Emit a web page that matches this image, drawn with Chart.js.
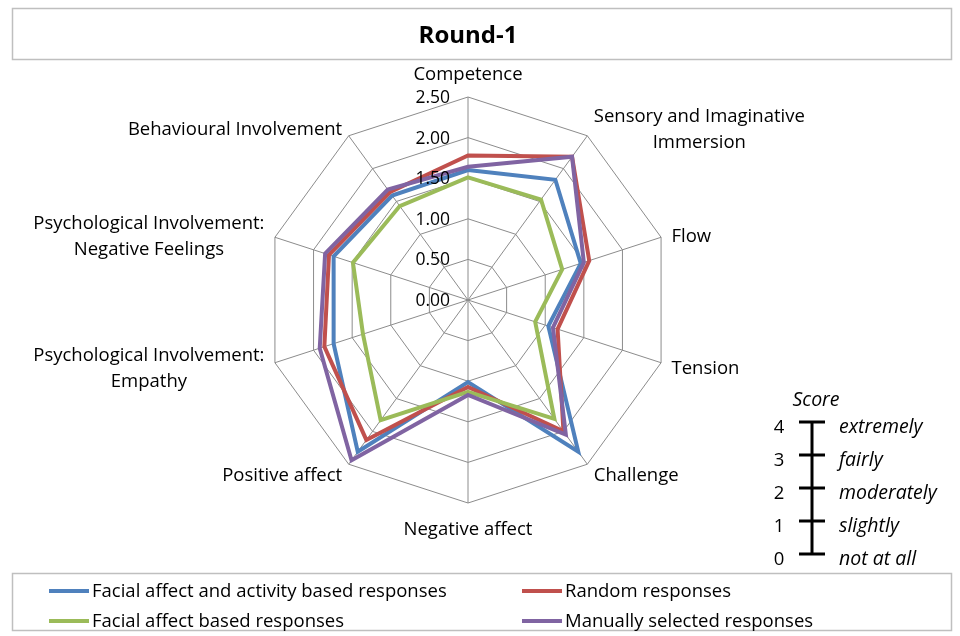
<!DOCTYPE html>
<html>
<head>
<meta charset="utf-8">
<title>Round-1</title>
<script src="https://cdn.jsdelivr.net/npm/chart.js"></script>
<style>
  html, body { margin: 0; padding: 0; background: #fff; }
  .container { width: 960px; height: 636px; position: relative; }
</style>
</head>
<body>
<div class="container"><canvas id="chart"></canvas></div>
<script>
// categories, clockwise from the top
const categories = [
  'Competence',
  ['Sensory and Imaginative', 'Immersion'],
  'Flow',
  'Tension',
  'Challenge',
  'Negative affect',
  'Positive affect',
  ['Psychological Involvement:', 'Empathy'],
  ['Psychological Involvement:', 'Negative Feelings'],
  'Behavioural Involvement'
];
const seriesNames = [
  'Facial affect and activity based responses',
  'Random responses',
  'Facial affect based responses',
  'Manually selected responses'
];
const facialActivity = [1.60, 1.83, 1.46, 1.04, 2.31, 1.01, 2.31, 1.74, 1.74, 1.59];
const randomResp     = [1.78, 2.18, 1.57, 1.16, 2.00, 1.07, 2.13, 1.86, 1.80, 1.64];
const facialOnly     = [1.51, 1.53, 1.22, 0.87, 1.81, 1.13, 1.83, 1.36, 1.49, 1.43];
const manualResp     = [1.64, 2.18, 1.50, 1.10, 2.05, 1.17, 2.44, 1.92, 1.85, 1.68];
const seriesColors = ['#4F81BD', '#C0504D', '#9BBB59', '#8064A2'];
const tickMin = 0, tickMax = 2.5, tickStep = 0.5;
const scoreValues = [0, 1, 2, 3, 4];
const scoreWords = ['not at all', 'slightly', 'moderately', 'fairly', 'extremely'];

const FONT = "'Open Sans', sans-serif";
Chart.defaults.font.family = FONT;
Chart.defaults.color = '#000';

// boxes round title and legend, axis numbers, labels, score key and legend
const decor = {
  id: 'decor',
  beforeDraw(chart) {
    const ctx = chart.ctx;
    ctx.save();
    ctx.fillStyle = '#fff';
    ctx.fillRect(0, 0, chart.width, chart.height);
    ctx.strokeStyle = '#BFBFBF';
    ctx.lineWidth = 1.5;
    ctx.strokeRect(12.5, 8.5, 939, 51);
    ctx.strokeRect(12.5, 573.5, 939, 57);
    ctx.restore();
  },
  afterDatasetsDraw(chart) {
    const ctx = chart.ctx;
    const sc = chart.scales.r;
    ctx.save();

    // axis numbers
    ctx.font = '17.5px ' + FONT;
    ctx.fillStyle = '#000';
    ctx.textAlign = 'right';
    ctx.textBaseline = 'middle';
    sc.ticks.forEach(t => {
      const y = sc.yCenter - sc.getDistanceFromCenterForValue(t.value);
      ctx.fillText(t.value.toFixed(2), sc.xCenter - 18, y + 1);
    });

    // category labels
    ctx.font = '18.5px ' + FONT;
    const lh = 26;
    chart.data.labels.forEach((lab, i) => {
      const lines = Array.isArray(lab) ? lab : [lab];
      const p = sc.getPointPosition(i, sc.drawingArea + 11);
      const w = Math.max(...lines.map(s => ctx.measureText(s).width));
      const h = lines.length * lh;
      const onAxis = Math.abs(p.x - sc.xCenter) < 2;
      let cx;
      if (onAxis) cx = p.x;
      else if (p.x > sc.xCenter) cx = p.x + w / 2;
      else cx = p.x - w / 2;
      let top;
      if (onAxis) top = p.y < sc.yCenter ? p.y - h + 2 : p.y + 3;
      else top = p.y - h / 2 + 3;
      ctx.textAlign = 'center';
      lines.forEach((s, k) => ctx.fillText(s, cx, top + lh * k + lh / 2));
    });

    // score key
    const kx = 812, ky0 = 554, kstep = 33;
    ctx.strokeStyle = '#000';
    ctx.lineWidth = 3;
    ctx.beginPath();
    ctx.moveTo(kx, ky0);
    ctx.lineTo(kx, ky0 - kstep * (scoreValues.length - 1));
    ctx.stroke();
    ctx.font = 'italic 19.5px ' + FONT;
    ctx.textAlign = 'center';
    ctx.fillText('Score', 816, 400);
    scoreValues.forEach((v, k) => {
      const y = ky0 - kstep * k;
      ctx.beginPath();
      ctx.moveTo(kx - 13, y);
      ctx.lineTo(kx + 13, y);
      ctx.stroke();
      ctx.font = '18.5px ' + FONT;
      ctx.textAlign = 'center';
      ctx.fillText(String(v), 779, y + 6);
      ctx.font = 'italic 19.5px ' + FONT;
      ctx.textAlign = 'left';
      ctx.fillText(scoreWords[k], 839, y + 5);
    });

    // legend, two columns
    ctx.font = '18.5px ' + FONT;
    ctx.textAlign = 'left';
    chart.data.datasets.forEach((ds, i) => {
      const x = i % 2 === 0 ? 49 : 522;
      const y = i < 2 ? 591 : 621;
      ctx.strokeStyle = ds.borderColor;
      ctx.lineWidth = 4;
      ctx.beginPath();
      ctx.moveTo(x, y);
      ctx.lineTo(x + 40, y);
      ctx.stroke();
      ctx.fillText(ds.label, x + 43, y + 1);
    });
    ctx.restore();
  }
};

const seriesData = [facialActivity, randomResp, facialOnly, manualResp];

new Chart(document.getElementById('chart'), {
  type: 'radar',
  data: {
    labels: categories,
    datasets: seriesData.map((d, i) => ({
      label: seriesNames[i],
      data: d,
      borderColor: seriesColors[i],
      backgroundColor: seriesColors[i],
      borderWidth: 4,
      pointRadius: 0,
      fill: false,
      tension: 0,
      order: seriesData.length - i
    }))
  },
  options: {
    responsive: true,
    maintainAspectRatio: false,
    animation: false,
    layout: { padding: { top: 0, bottom: 133, left: 0, right: 24 } },
    plugins: {
      legend: { display: false },
      tooltip: { enabled: false },
      title: {
        display: true,
        text: 'Round-1',
        font: { size: 24, weight: 'bold' },
        color: '#000',
        padding: { top: 22, bottom: 46.2 }
      }
    },
    scales: {
      r: {
        min: tickMin,
        max: tickMax,
        ticks: { stepSize: tickStep, display: false },
        grid: { color: '#8C8C8C', lineWidth: 1 },
        angleLines: { color: '#8C8C8C', lineWidth: 1 },
        pointLabels: { display: false }
      }
    }
  },
  plugins: [decor]
});
</script>
</body>
</html>
